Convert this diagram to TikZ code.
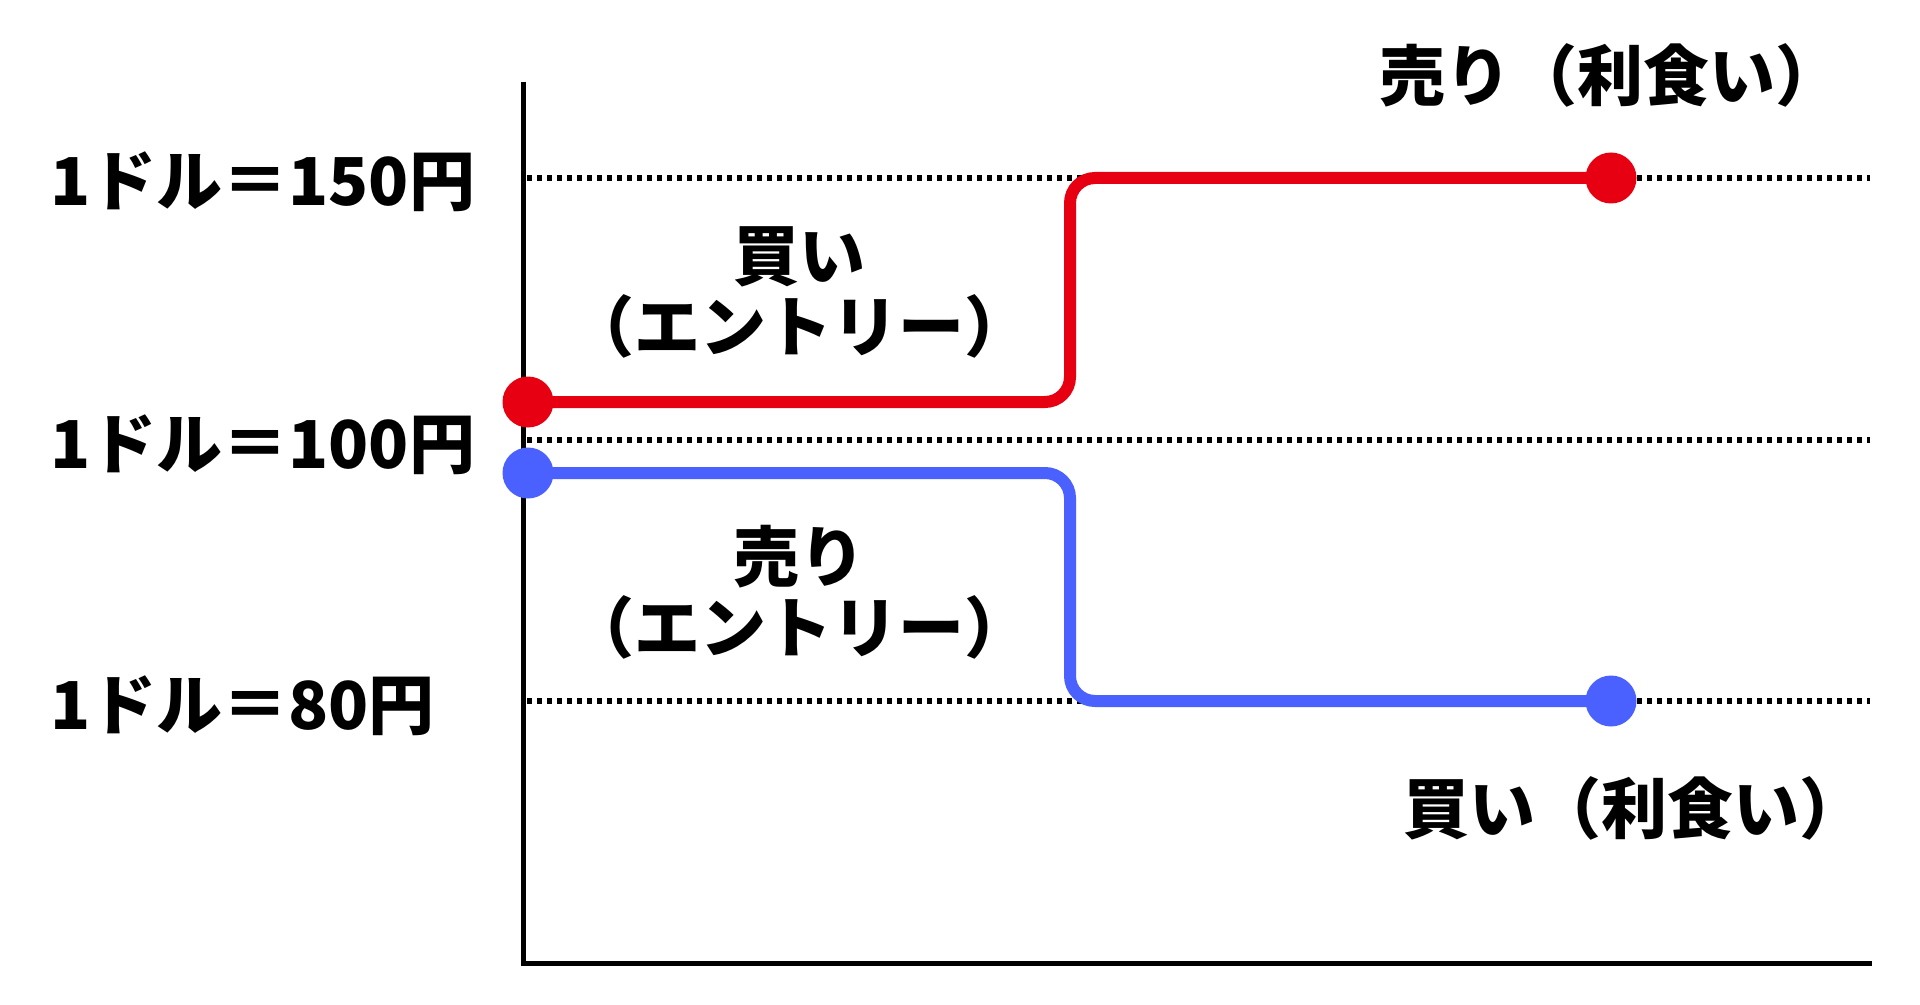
\documentclass[tikz,border=0pt]{standalone}
\usepackage{fontspec}
\setmainfont{Noto Sans CJK JP}
\definecolor{sellred}{RGB}{230,0,18}
\definecolor{buyblue}{RGB}{74,96,255}
\tikzset{
  pricelabel/.style={font=\bfseries\fontsize{33}{35.5}\selectfont,inner sep=0pt,align=center},
  guide/.style={line width=2.6pt,dash pattern=on 2.5pt off 2.5pt},
  trade/.style={line width=6pt,rounded corners=12.5pt},
  tradedot/.style={circle,fill=#1,inner sep=0pt,minimum size=25.5pt}
}

\begin{document}
\begin{tikzpicture}[x=0.5pt,y=-0.5pt]
    \useasboundingbox (0,0) rectangle (1920,1005);
    \coordinate (top) at (523,82);
    \coordinate (origin) at (523,963);
    \coordinate (right) at (1872,963);
      \draw[line width=2.5pt] (top)--(origin)--(right);
      \foreach \y in {178,440,701}
        \draw[guide] (527,\y)--(1870,\y);

    \node[pricelabel,anchor=west] (p150) at (50,182) {1ドル＝150円};
    \node[pricelabel,anchor=west] (p100) at (50,445) {1ドル＝100円};
    \node[pricelabel,anchor=west] (p80) at (50,706) {1ドル＝80円};

    \node[tradedot=sellred] (rs) at (528,402) {};
    \node[tradedot=sellred] (re) at (1611,178) {};
    \node[tradedot=buyblue] (bs) at (528,473) {};
    \node[tradedot=buyblue] (be) at (1611,701) {};
    \coordinate (rturn) at (1070,290);
    \coordinate (bturn) at (1070,590);

    \draw[trade,sellred] (rs.center) -| (rturn) |- (re.center);
    \draw[trade,buyblue] (bs.center) -| (bturn) |- (be.center);

    \node[pricelabel] (buyin) at (799,292) {買い\\（エントリー）};
    \node[pricelabel] (sellin) at (799,592) {売り\\（エントリー）};
    \node[pricelabel] (sellout) at (1610,75) {売り（利食い）};
    \node[pricelabel] (buyout) at (1634,808) {買い（利食い）};
\end{tikzpicture}
\end{document}
